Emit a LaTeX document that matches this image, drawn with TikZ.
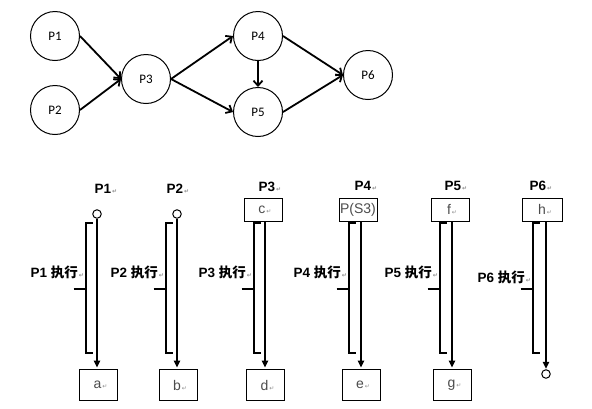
\documentclass[tikz,border=0pt]{standalone}
\usepackage{fontspec}
\setmainfont{Liberation Sans}
\newfontfamily\cjk{Noto Sans CJK SC}
\newfontfamily\calib{Carlito}
\newfontfamily\djv{DejaVu Sans}
\usetikzlibrary{arrows.meta}
\newcommand{\pmark}{{\djv\fontsize{6}{6}\selectfont\color{black!45}\,↵}}
\begin{document}
\begin{tikzpicture}[x=1pt,y=-1pt,
  pc/.style={circle,draw,line width=1pt,minimum size=49pt,inner sep=0pt,font=\calib\fontsize{13}{13}\selectfont},
  ga/.style={line width=1.8pt,-{Straight Barb[length=5pt,width=9pt]}},
  hd/.style={font=\fontsize{13.5}{13.5}\selectfont\bfseries,inner sep=0pt},
  oc/.style={circle,draw,line width=1pt,minimum size=8.5pt,inner sep=0pt},
  bx/.style={draw,line width=1pt,minimum width=38pt,minimum height=23pt,inner sep=0pt,font=\fontsize{14}{14}\selectfont,text=black!70},
  bb/.style={bx,minimum height=31pt},
  fl/.style={line width=1.2pt,-{Triangle[length=7pt,width=6.5pt]},shorten >=1.5pt},
  br/.style={line width=1.2pt},
  lab/.style={font=\fontsize{13.5}{13.5}\selectfont\bfseries,inner sep=0pt,anchor=east}
]
\useasboundingbox (0,0) rectangle (592,408);
% top graph
\node[pc] (P1) at (55,36) {P1};
\node[pc] (P2) at (55,110) {P2};
\node[pc] (P3) at (146,79) {P3};
\node[pc] (P4) at (258,36) {P4};
\node[pc] (P5) at (258,112) {P5};
\node[pc] (P6) at (368,75) {P6};
\draw[ga] (P1.east) -- (P3.west);
\draw[ga] (P2.east) -- (P3.west);
\draw[ga] (P3.east) -- (P4.west);
\draw[ga] (P3.east) -- (P5.west);
\draw[ga] (P4.south) -- (P5.north);
\draw[ga] (P4.east) -- (P6.west);
\draw[ga] (P5.east) -- (P6.west);
% headers
\node[hd] (H1) at (106,189) {P1\pmark};
\node[hd] (H2) at (178,189) {P2\pmark};
\node[hd] (H3) at (270,187) {P3\pmark};
\node[hd] (H4) at (366,186) {P4\pmark};
\node[hd] (H5) at (456,186) {P5\pmark};
\node[hd] (H6) at (541,186) {P6\pmark};
% top markers
\node[oc] (o1) at (97,214) {};
\node[oc] (o2) at (177,214) {};
\node[bx] (c) at (263,209.5) {\hspace{4pt}c\pmark};
\node[bx] (s3) at (358,209.5) {P(S3)};
\node[bx] (f) at (450,209.5) {\hspace{4pt}f\pmark};
\node[bx,minimum width=40pt] (h) at (542,209.5) {\hspace{6pt}h\pmark};
% bottom markers
\node[bb] (a) at (98.5,385) {\hspace{4pt}a\pmark};
\node[bb] (b) at (178,385) {\hspace{4pt}b\pmark};
\node[bb] (d) at (265.5,385) {\hspace{4pt}d\pmark};
\node[bb] (e) at (361,385) {\hspace{4pt}e\pmark};
\node[bb] (g) at (452.5,385) {\hspace{4pt}g\pmark};
\node[oc] (o6) at (546,374) {};
% flow lines
\coordinate (l3) at (265,0);
\coordinate (l4) at (361,0);
\coordinate (l5) at (452,0);
\coordinate (l6) at (546,0);
\draw[fl] (o1.south) -- (o1.south |- a.north);
\draw[fl] (o2.south) -- (o2.south |- b.north);
\draw[fl] (l3 |- c.south) -- (l3 |- d.north);
\draw[fl] (l4 |- s3.south) -- (l4 |- e.north);
\draw[fl] (l5 |- f.south) -- (l5 |- g.north);
\draw[fl,shorten >=0.5pt] (l6 |- h.south) -- (o6.north);
% brackets
\foreach \x in {86,166,254,349,440,533}{
  \draw[br] (\x+6.5,223) -- (\x,223) -- (\x,353) -- (\x+6.5,353);
  \draw[br] (\x-12.5,289) -- (\x,289);
}
% labels
\node[lab] (L1) at (84,272) {P1 {\cjk 执行}\pmark};
\node[lab] (L2) at (164,272) {P2 {\cjk 执行}\pmark};
\node[lab] (L3) at (252,272) {P3 {\cjk 执行}\pmark};
\node[lab] (L4) at (347,272) {P4 {\cjk 执行}\pmark};
\node[lab] (L5) at (438,272) {P5 {\cjk 执行}\pmark};
\node[lab] (L6) at (531,277) {P6 {\cjk 执行}\pmark};
\end{tikzpicture}
\end{document}
